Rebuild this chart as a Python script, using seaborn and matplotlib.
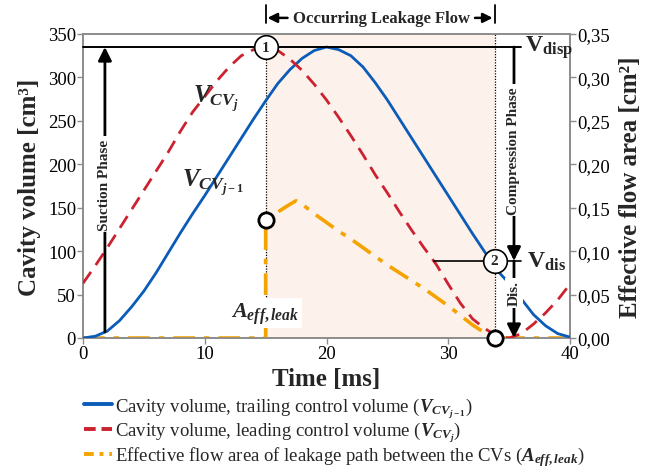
import numpy as np
import pandas as pd
import matplotlib
matplotlib.use("Agg")
import matplotlib.pyplot as plt
from matplotlib.lines import Line2D
import seaborn as sns

# ---------------- data ----------------
time_ms = list(range(0, 41))
vol_trailing = [0, 2, 8, 20, 36, 54, 75, 98, 121, 143, 164, 186, 208, 230, 252, 273,
                293, 309, 322, 331, 335, 332, 325, 312, 294, 274, 252, 230, 208, 186,
                164, 142, 120, 99, 78, 63, 45, 27, 14, 5, 1]
vol_leading = [63, 83, 104, 126, 148, 170, 192, 214, 238, 260, 278, 296, 312, 325, 332,
               335, 331, 321, 308, 292, 274, 254, 233, 211, 188, 167, 145, 124, 104, 85,
               62, 40, 22, 11, 2, 0, 5, 16, 29, 44, 62]
area_time = [0, 15, 15, 16, 17, 17.5, 18, 19, 20, 21, 22, 23, 24, 25, 26, 27, 28, 29,
             30, 31, 32, 33, 33.8, 40]
area_leak = [0, 0, 0.136, 0.145, 0.154, 0.158, 0.154, 0.143, 0.133, 0.123, 0.114, 0.104,
             0.094, 0.084, 0.075, 0.066, 0.057, 0.047, 0.037, 0.026, 0.015, 0.006, 0.0, 0.0]

x_ticks = [0, 10, 20, 30, 40]
y_ticks = [0, 50, 100, 150, 200, 250, 300, 350]
y2_ticks = [0.00, 0.05, 0.10, 0.15, 0.20, 0.25, 0.30, 0.35]
y2_labels = ["0,00", "0,05", "0,10", "0,15", "0,20", "0,25", "0,30", "0,35"]

leak_start, leak_end = 15.0, 33.8
v_disp, v_dis = 335, 89
t_dis_cross = 28.8

legend_labels = [
    r"Cavity volume, trailing control volume ($V_{CV_{j-1}}$)",
    r"Cavity volume, leading control volume ($V_{CV_j}$)",
    r"Effective flow area of leakage path between the CVs ($A_{eff,leak}$)",
]

# ---------------- style ----------------
sns.set_theme(style="white")
plt.rcParams["font.family"] = ["Liberation Serif", "DejaVu Serif"]
plt.rcParams["mathtext.fontset"] = "custom"
plt.rcParams["mathtext.it"] = "Liberation Serif:italic:bold"
plt.rcParams["mathtext.rm"] = "Liberation Serif:bold"
plt.rcParams["mathtext.bf"] = "Liberation Serif:bold"

BLUE = "#0a5cb8"
RED = "#cc2230"
ORANGE = "#f5a300"
SHADE = "#fdf1ec"
SPINE = "#8c8c8c"

fig = plt.figure(figsize=(6.59, 4.77), dpi=100)
ax = fig.add_axes([83 / 659, 1 - 339 / 477, 487 / 659, 304 / 477])
ax2 = ax.twinx()
ax.set_zorder(ax2.get_zorder() + 1)
ax.patch.set_visible(False)
ax2.patch.set_visible(True)
ax2.patch.set_facecolor("white")

df_vol = pd.DataFrame({"t": time_ms, "trail": vol_trailing, "lead": vol_leading})
df_area = pd.DataFrame({"t": area_time, "a": area_leak})

ax2.axvspan(leak_start, leak_end, color=SHADE, zorder=0, lw=0)
ax2.axvline(leak_start, color="black", lw=0.9, ls=(0, (1, 1.2)), zorder=1)
ax2.axvline(leak_end, color="black", lw=0.9, ls=(0, (1, 1.2)), zorder=1)

sns.lineplot(data=df_area, x="t", y="a", ax=ax2, color=ORANGE, lw=2.6,
             estimator=None, sort=False, zorder=3)
ax2.lines[-1].set_linestyle((0, (6, 2.5, 1.5, 2.5)))
sns.lineplot(data=df_vol, x="t", y="trail", ax=ax, color=BLUE, lw=2.0,
             estimator=None, sort=False, zorder=3)
sns.lineplot(data=df_vol, x="t", y="lead", ax=ax, color=RED, lw=2.0,
             estimator=None, sort=False, zorder=3)
ax.lines[-1].set_linestyle((0, (5, 3)))

ax.set_xlim(0, 40)
ax.set_ylim(0, 350)
ax2.set_ylim(0, 0.35)
ax.set_xticks(x_ticks)
ax.set_yticks(y_ticks)
ax2.set_yticks(y2_ticks)
ax2.set_yticklabels(y2_labels)

for a in (ax, ax2):
    for s in a.spines.values():
        s.set_color(SPINE)
        s.set_linewidth(1.2)
    a.tick_params(direction="out", length=4, width=1, color=SPINE, labelsize=13.5,
                  pad=1, labelcolor="black")
ax.tick_params(axis="both", which="both", left=True, bottom=True)
ax2.tick_params(axis="y", right=True)

ax.set_xlabel("Time [ms]", fontsize=18, fontweight="bold", labelpad=4)
ax.set_ylabel("Cavity volume [cm³]", fontsize=18, fontweight="bold", labelpad=5)
ax2.set_ylabel("Effective flow area [cm²]", fontsize=18, fontweight="bold", labelpad=7)

# ---------------- annotations ----------------
ax.plot([0, 36.0], [v_disp, v_disp], color="black", lw=1.4, zorder=4, clip_on=False)
ax.plot([t_dis_cross, 36.0], [v_dis, v_dis], color="black", lw=1.2, zorder=4)

ax.plot([leak_start], [v_disp], "o", ms=17, mfc="white", mec="black", mew=1.2, zorder=6)
ax.text(leak_start, v_disp, "1", ha="center", va="center", fontsize=11, fontweight="bold", zorder=7)
ax.plot([leak_end], [v_dis], "o", ms=17, mfc="white", mec="black", mew=1.2, zorder=6)
ax.text(leak_end, v_dis, "2", ha="center", va="center", fontsize=11, fontweight="bold", zorder=7)

ax2.plot([leak_start], [0.136], "o", ms=11, mfc="white", mec="black", mew=2, zorder=6)
ax.plot([leak_end], [0], "o", ms=11, mfc="white", mec="black", mew=2, zorder=8, clip_on=False)

arrow_kw = dict(arrowstyle="-|>", mutation_scale=20, lw=2, color="black", shrinkA=0, shrinkB=0)
ax.annotate("", xy=(1.8, 335), xytext=(1.8, 7), arrowprops=arrow_kw, zorder=5)
ax.text(1.8, 177, "Suction Phase", rotation=90, ha="center", va="center", fontsize=11,
        fontweight="bold", zorder=6,
        bbox=dict(boxstyle="square,pad=0.15", fc="white", ec="none"))
ax.annotate("", xy=(35.4, v_dis), xytext=(35.4, v_disp), arrowprops=arrow_kw,
            zorder=5, annotation_clip=False)
ax.text(35.4, 216, "Compression Phase", rotation=90, ha="center", va="center", fontsize=11,
        fontweight="bold", zorder=6,
        bbox=dict(boxstyle="square,pad=0.15", fc="white", ec="none"))
ax.annotate("", xy=(35.4, 0), xytext=(35.4, v_dis), arrowprops=arrow_kw,
            zorder=5, annotation_clip=False)
ax.text(35.4, 52, "Dis.", rotation=90, ha="center", va="center", fontsize=11,
        fontweight="bold", zorder=6,
        bbox=dict(boxstyle="square,pad=0.15", fc="white", ec="none"))

ax.text(36.3, v_disp, r"$\mathbf{V}_{\mathbf{disp}}$", ha="left", va="center",
        fontsize=17, zorder=6)
ax.text(36.5, v_dis, r"$\mathbf{V}_{\mathbf{dis}}$", ha="left", va="center",
        fontsize=17, zorder=6)

ax.text(10.9, 277, r"$V_{CV_j}$", ha="center", va="center", fontsize=18, zorder=6)
ax.text(10.7, 180, r"$V_{CV_{j-1}}$", ha="center", va="center", fontsize=18, zorder=6)
ax.text(15.0, 29, r"$A_{eff,leak}$", ha="center", va="center", fontsize=16, zorder=6,
        bbox=dict(boxstyle="square,pad=0.1", fc="white", ec="none"))

tr = ax.get_xaxis_transform()
for tx in (leak_start, leak_end):
    ax.plot([tx, tx], [1.036, 1.095], transform=tr, color="black", lw=1.3, clip_on=False)
ax.annotate("", xy=(leak_start + 0.15, 1.053), xytext=(16.8, 1.053), xycoords=tr,
            textcoords=tr, arrowprops=dict(arrowstyle="-|>", mutation_scale=14, lw=1.8,
                                            color="black", shrinkA=0, shrinkB=0))
ax.annotate("", xy=(leak_end - 0.15, 1.053), xytext=(32.2, 1.053), xycoords=tr,
            textcoords=tr, arrowprops=dict(arrowstyle="-|>", mutation_scale=14, lw=1.8,
                                            color="black", shrinkA=0, shrinkB=0))
ax.text(24.5, 1.053, "Occurring Leakage Flow", transform=tr, ha="center", va="center",
        fontsize=12, fontweight="bold")

handles = [
    Line2D([], [], color=BLUE, lw=2.8),
    Line2D([], [], color=RED, lw=2.8, ls=(0, (3, 1.5))),
    Line2D([], [], color=ORANGE, lw=2.8, ls=(0, (2.5, 1.5, 1, 1.5))),
]
fig.legend(handles, legend_labels, loc="upper left", bbox_to_anchor=(0.128, 0.170),
           frameon=False, fontsize=13.5, handlelength=1.5, handletextpad=0.15,
           labelspacing=0.0, borderaxespad=0, borderpad=0)

fig.savefig("out.png", dpi=100)
